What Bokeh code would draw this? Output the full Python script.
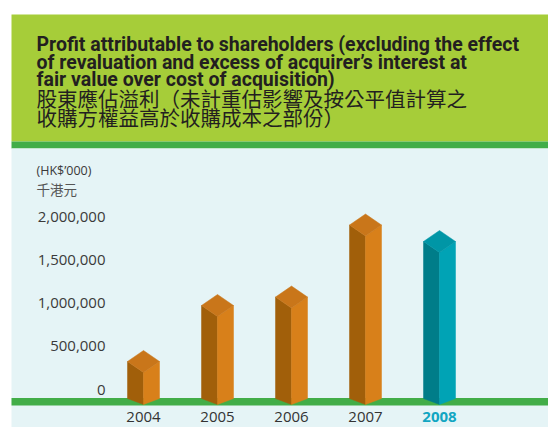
from bokeh.plotting import figure
from bokeh.models import Range1d, ColumnDataSource, Label
from bokeh.core.properties import value
from bokeh.embed import file_html
from bokeh.resources import INLINE

# ---------------- data ----------------
years = ["2004", "2005", "2006", "2007", "2008"]
profit = [325000, 974000, 1072000, 1907000, 1716000]   # HK$'000
left_colors = ["#A15F0A", "#A15F0A", "#A15F0A", "#A15F0A", "#007D89"]
right_colors = ["#D8801A", "#D8801A", "#D8801A", "#D8801A", "#00A3B5"]
top_colors = ["#C9761A", "#C9761A", "#C9761A", "#C9761A", "#0096A6"]
label_colors = ["#333333", "#333333", "#333333", "#333333", "#12A6C2"]
label_styles = ["normal", "normal", "normal", "normal", "bold"]
tick_values = [0, 500000, 1000000, 1500000, 2000000]
tick_labels = ["0", "500,000", "1,000,000", "1,500,000", "2,000,000"]

title_lines = [
    "Profit attributable to shareholders (excluding the effect",
    "of revaluation and excess of acquirer\u2019s interest at",
    "fair value over cost of acquisition)",
]
title_cn = [
    "股東應佔溢利（未計重估影響及按公平值計算之",
    "收購方權益高於收購成本之部份）",
]
unit_en = "(HK$\u2019000)"
unit_cn = "千港元"

# ---------------- layout helpers (reference pixel -> data) ----------------
W, H = 548, 427
X0, DX = 143.0, 74.0          # pixel of first bar centre, pixels per category
Y0, DY = 389.0, 86.25e-6      # pixel of value 0, pixels per unit value


def X(px):
    return (px - X0) / DX


def Y(py):
    return (Y0 - py) / DY


p = figure(width=W, height=H, output_backend="svg", toolbar_location=None,
           x_range=Range1d(X(0), X(W)), y_range=Range1d(Y(H), Y(0)),
           min_border=0, outline_line_color=None, background_fill_color="white",
           border_fill_color="white")
p.axis.visible = False
p.grid.visible = False

# backgrounds
p.quad(left=X(11), right=X(560), top=Y(14), bottom=Y(141), fill_color="#A6CD39", line_color=None)
p.quad(left=X(11), right=X(560), top=Y(141), bottom=Y(148), fill_color="#42AD48", line_color=None)
p.quad(left=X(11), right=X(560), top=Y(148), bottom=Y(460), fill_color="#E5F4F6", line_color=None)
p.quad(left=X(11), right=X(560), top=Y(397.5), bottom=Y(405), fill_color="#42AD48", line_color=None)

# ---------------- 3D prisms ----------------
HW = 16.0 / DX            # half width in category units
D = 11.0 / DY             # face depth in value units
BC = Y(398)               # bottom side corners
BF = Y(404)               # bottom front vertex

lx, ly, rx, ry, tx, ty = [], [], [], [], [], []
for i, v in enumerate(profit):
    x = i
    lx.append([x - HW, x, x, x - HW])
    ly.append([v, v - D, BF, BC])
    rx.append([x, x + HW, x + HW, x])
    ry.append([v - D, v, BC, BF])
    tx.append([x - HW, x, x + HW, x])
    ty.append([v, v + D, v, v - D])

p.patches(xs=lx, ys=ly, fill_color=left_colors, line_color=left_colors, line_width=0.5)
p.patches(xs=rx, ys=ry, fill_color=right_colors, line_color=right_colors, line_width=0.5)
p.patches(xs=tx, ys=ty, fill_color=top_colors, line_color=top_colors, line_width=0.5)

# ---------------- tick labels ----------------
tick_src = ColumnDataSource(dict(x=[X(105)] * len(tick_values), y=tick_values, t=tick_labels))
p.text(x="x", y="y", text="t", source=tick_src, text_align="right", text_baseline="middle",
       text_font=value("Open Sans"), text_font_size="15px", text_color="#3A3A3A")

# year labels
for i, yr in enumerate(years):
    p.text(x=[i], y=[Y(416)], text=[yr], text_align="center", text_baseline="middle",
           text_font=value("Open Sans"), text_font_size="15px", text_color=label_colors[i],
           text_font_style=label_styles[i])

# unit labels
p.add_layout(Label(x=X(36), y=Y(170), text=unit_en, text_align="left", text_baseline="middle",
                   text_font="Open Sans", text_font_size="12.5px", text_color="#3A3A3A"))
p.add_layout(Label(x=X(36), y=Y(188), text=unit_cn, text_align="left", text_baseline="middle",
                   text_font="Noto Sans CJK TC", text_font_size="13.5px", text_color="#555555"))

# title
for k, line in enumerate(title_lines):
    p.add_layout(Label(x=X(36), y=Y(44.3 + 17.4 * k), text=line, text_align="left",
                       text_baseline="alphabetic", text_font="Roboto", text_font_style="bold",
                       text_font_size="19.5px", text_color="#231F20"))
for k, line in enumerate(title_cn):
    p.add_layout(Label(x=X(36), y=Y(97 + 19.5 * k), text=line, text_align="left",
                       text_baseline="middle", text_font="Noto Sans CJK TC",
                       text_font_size="20.5px", text_color="#231F20"))

open("out.html", "w").write(file_html(p, INLINE))
